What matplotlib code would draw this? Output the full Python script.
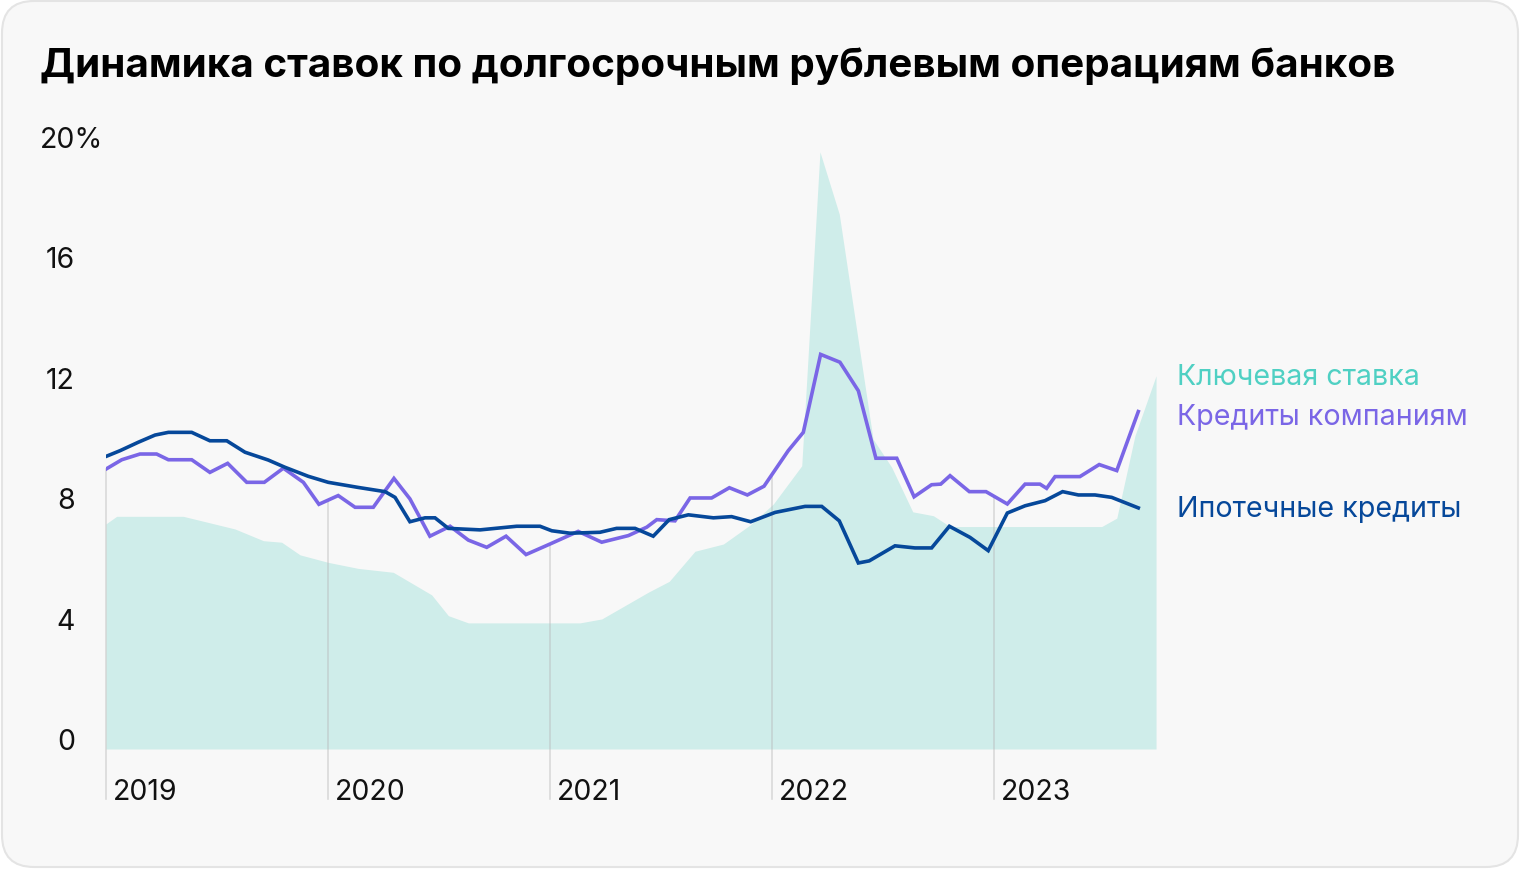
import matplotlib
matplotlib.use('Agg')
import matplotlib.pyplot as plt
import matplotlib.transforms as mtransforms
from matplotlib.patches import FancyBboxPatch
import numpy as np

plt.rcParams['font.family'] = ['Inter', 'DejaVu Sans']

title = 'Динамика ставок по долгосрочным рублевым операциям банков'

# key rate (filled area), decimal year / percent
key_x = [2019.0, 2019.048, 2019.348, 2019.581, 2019.709, 2019.791, 2019.874, 2020.001,
         2020.136, 2020.294, 2020.467, 2020.542, 2020.632, 2021.135, 2021.233, 2021.443,
         2021.537, 2021.653, 2021.781, 2021.901, 2022.006, 2022.134, 2022.216, 2022.303,
         2022.455, 2022.539, 2022.634, 2022.727, 2022.802, 2023.485, 2023.553, 2023.635,
         2023.730]
key_y = [7.48, 7.73, 7.73, 7.31, 6.92, 6.87, 6.45, 6.20,
         6.00, 5.87, 5.12, 4.43, 4.19, 4.19, 4.32, 5.21,
         5.57, 6.57, 6.81, 7.44, 8.14, 9.41, 19.84, 17.77,
         10.30, 9.36, 7.88, 7.75, 7.39, 7.39, 7.67, 10.41,
         12.40]

# loans to companies
corp_x = [2019.0, 2019.071, 2019.153, 2019.228, 2019.281, 2019.386, 2019.468, 2019.548,
          2019.634, 2019.713, 2019.799, 2019.889, 2019.959, 2020.046, 2020.122, 2020.204,
          2020.297, 2020.369, 2020.459, 2020.550, 2020.632, 2020.715, 2020.802, 2020.892,
          2021.000, 2021.127, 2021.233, 2021.353, 2021.436, 2021.481, 2021.563, 2021.631,
          2021.728, 2021.808, 2021.889, 2021.964, 2022.073, 2022.141, 2022.219, 2022.306,
          2022.389, 2022.468, 2022.562, 2022.640, 2022.719, 2022.760, 2022.802, 2022.889,
          2022.964, 2023.060, 2023.140, 2023.207, 2023.237, 2023.275, 2023.387, 2023.474,
          2023.553, 2023.650]
corp_y = [9.30, 9.61, 9.80, 9.80, 9.61, 9.61, 9.19, 9.49,
          8.86, 8.86, 9.33, 8.86, 8.13, 8.42, 8.03, 8.03,
          8.99, 8.31, 7.07, 7.40, 6.94, 6.70, 7.07, 6.46,
          6.81, 7.23, 6.87, 7.09, 7.37, 7.62, 7.58, 8.34,
          8.34, 8.68, 8.44, 8.73, 9.91, 10.52, 13.11, 12.85,
          11.90, 9.66, 9.66, 8.38, 8.78, 8.80, 9.08, 8.55,
          8.55, 8.14, 8.80, 8.80, 8.66, 9.05, 9.05, 9.45,
          9.25, 11.21]

# mortgage loans
mort_x = [2019.0, 2019.063, 2019.145, 2019.221, 2019.281, 2019.386, 2019.468, 2019.544,
          2019.626, 2019.731, 2019.806, 2019.911, 2020.001, 2020.136, 2020.257, 2020.302,
          2020.369, 2020.437, 2020.482, 2020.542, 2020.685, 2020.850, 2020.955, 2021.008,
          2021.090, 2021.225, 2021.300, 2021.383, 2021.465, 2021.537, 2021.623, 2021.736,
          2021.818, 2021.904, 2022.014, 2022.149, 2022.224, 2022.303, 2022.389, 2022.438,
          2022.554, 2022.644, 2022.719, 2022.799, 2022.892, 2022.974, 2023.060, 2023.140,
          2023.230, 2023.309, 2023.380, 2023.455, 2023.530, 2023.650]
mort_y = [9.72, 9.91, 10.19, 10.43, 10.52, 10.52, 10.24, 10.24,
          9.86, 9.60, 9.36, 9.06, 8.86, 8.69, 8.55, 8.36,
          7.55, 7.68, 7.68, 7.33, 7.28, 7.40, 7.40, 7.25,
          7.17, 7.20, 7.33, 7.33, 7.07, 7.62, 7.78, 7.68,
          7.72, 7.55, 7.86, 8.06, 8.06, 7.58, 6.18, 6.25,
          6.75, 6.68, 6.68, 7.40, 7.03, 6.59, 7.84, 8.08,
          8.25, 8.55, 8.44, 8.44, 8.36, 8.01]

years = [2019, 2020, 2021, 2022, 2023]
y_ticks = [0, 4, 8, 12, 16, 20]
series_names = ['Ключевая ставка', 'Кредиты компаниям', 'Ипотечные кредиты']

c_key_fill = '#CFEDEA'
c_key_text = '#4FD0C3'
c_corp = '#7A66E6'
c_mort = '#06489A'

fig = plt.figure(figsize=(15.2, 8.7), dpi=100)
fig.patch.set_facecolor('white')
card = FancyBboxPatch((2, 2), 1516, 866, boxstyle='round,pad=0,rounding_size=32',
                      facecolor='#F8F8F8', edgecolor='#E4E4E4', linewidth=1.5,
                      transform=mtransforms.IdentityTransform(), zorder=0)
fig.add_artist(card)

# axes: 2019.0 at x=106px, 222px per year; 0% at y=750px, 30.1px per point
ax = fig.add_axes([106 / 1520, 59.8 / 870, 1110 / 1520, 23 * 30.1 / 870])
ax.set_xlim(2019.0, 2024.0)
ax.set_ylim(-2, 21)
ax.set_facecolor('none')
ax.axis('off')

ax.fill_between(key_x, 0, key_y, color=c_key_fill, linewidth=0, zorder=1)

# year markers: from the companies line down below the baseline
for yr in years:
    top = np.interp(yr, corp_x, corp_y)
    ax.plot([yr, yr], [-1.66, top], color='#B5B5B5', alpha=0.45, lw=1.2,
            clip_on=False, zorder=2)
    ax.text(yr + 0.032, -1.66, str(yr), fontsize=20.5, color='#111111',
            ha='left', va='baseline', clip_on=False)

ax.plot(corp_x, corp_y, color=c_corp, lw=2.6, solid_joinstyle='miter', zorder=3)
ax.plot(mort_x, mort_y, color=c_mort, lw=2.6, solid_joinstyle='miter', zorder=4)

ytr = ax.get_yaxis_transform()
for v in y_ticks:
    if v == 20:
        ax.text(-66 / 1110, v, '20%', transform=ytr, fontsize=20.5, color='#111111',
                ha='left', va='baseline', clip_on=False)
    else:
        ax.text(-31 / 1110, v, str(v), transform=ytr, fontsize=20.5, color='#111111',
                ha='right', va='baseline', clip_on=False)

# series labels at the right
lab_x = 1177 / 1520
fig.text(lab_x, 1 - 378 / 870, series_names[0], fontsize=20.6, color=c_key_text,
         ha='left', va='center')
fig.text(lab_x, 1 - 418 / 870, series_names[1], fontsize=20.6, color=c_corp,
         ha='left', va='center')
fig.text(lab_x, 1 - 510 / 870, series_names[2], fontsize=20.6, color=c_mort,
         ha='left', va='center')

fig.text(40 / 1520, 1 - 66 / 870, title, fontsize=29.1, fontweight='bold',
         color='#000000', ha='left', va='center')

fig.savefig('out.png', dpi=100)
